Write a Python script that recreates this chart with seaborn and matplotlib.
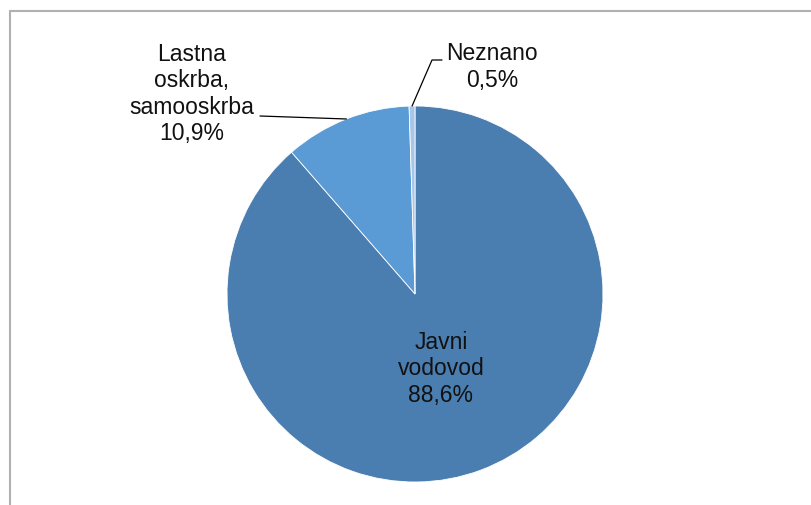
import matplotlib
matplotlib.use("Agg")
import matplotlib.pyplot as plt
import numpy as np
import seaborn as sns
from matplotlib.lines import Line2D

# data
categories = ["Javni vodovod", "Lastna oskrba, samooskrba", "Neznano"]
labels = ["Javni\nvodovod\n88,6%", "Lastna\noskrba,\nsamooskrba\n10,9%", "Neznano\n0,5%"]
shares = [88.6, 10.9, 0.5]
colors = ["#4a7eb0", "#5b9bd5", "#a8c6e8"]

sns.set_style("white")
plt.rcParams["font.family"] = ["Liberation Sans", "DejaVu Sans"]

W, H = 812, 506
fig = plt.figure(figsize=(W / 100, H / 100), dpi=100)
ax = fig.add_axes([0, 0, 1, 1])

cx, cy, r = 415, H - 295, 188
wedges, _ = ax.pie(shares, colors=colors, startangle=90, counterclock=False,
                   center=(cx, cy), radius=r, frame=True,
                   wedgeprops=dict(edgecolor="white", linewidth=0.6))
ax.set_xlim(0, W)
ax.set_ylim(0, H)
ax.set_aspect("equal")
ax.axis("off")


def edge_point(w):
    ang = np.deg2rad((w.theta1 + w.theta2) / 2)
    return cx + r * np.cos(ang), cy + r * np.sin(ang)


fs = 16.5
# big slice, label inside
ax.text(441, H - 369, labels[0], ha="center", va="center", fontsize=fs,
        color="#111111")

# Lastna oskrba, leader line to edge midpoint
ex, ey = edge_point(wedges[1])
ax.text(192, H - 94, labels[1], ha="center", va="center", fontsize=fs,
        color="#111111")
ax.plot([260, ex], [H - 117, ey], color="black", lw=0.9)

# Neznano, bent leader line
ex, ey = edge_point(wedges[2])
ax.text(492, H - 67, labels[2], ha="center", va="center", fontsize=fs,
        color="#111111")
ax.plot([ex, 432, 442], [ey, H - 61, H - 61], color="black", lw=0.9)

# chart area border (top and left visible)
fig.add_artist(Line2D([10 / W, 1], [1 - 12 / H, 1 - 12 / H], color="#b0b0b0", lw=1.5))
fig.add_artist(Line2D([10 / W, 10 / W], [0, 1 - 12 / H], color="#b0b0b0", lw=1.5))

fig.savefig("out.png", dpi=100)
